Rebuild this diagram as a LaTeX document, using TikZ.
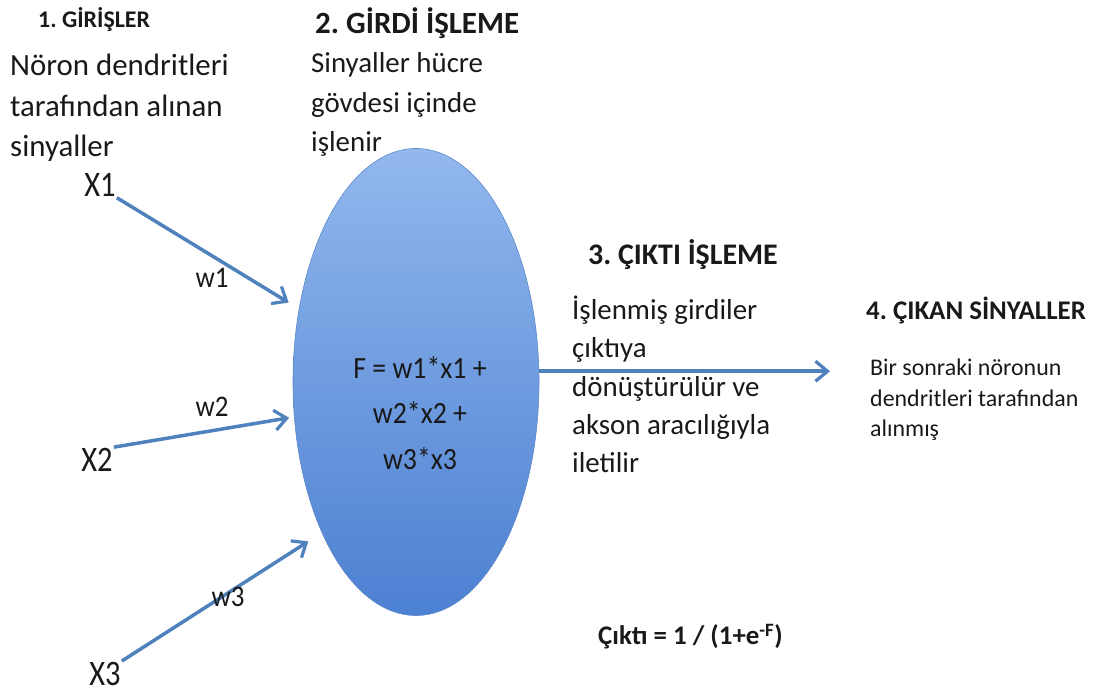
\documentclass[tikz,border=0pt]{standalone}
\usepackage{fontspec}
\setmainfont{Carlito}
\usetikzlibrary{arrows.meta,shapes.geometric}
\definecolor{axon}{RGB}{79,129,189}
\definecolor{somatop}{RGB}{146,184,237}
\definecolor{somabot}{RGB}{76,128,210}
\definecolor{somaedge}{RGB}{92,136,200}
\definecolor{ink}{RGB}{25,25,25}
\frenchspacing
\begin{document}
\begin{tikzpicture}[x=1bp,y=1bp,>={Straight Barb[length=12bp,width=20bp,line width=3.2bp]},
	sig/.style={->,draw=axon,line width=3.5bp},
	txt/.style={anchor=base west,align=left,inner sep=0pt,text=ink},
	head/.style={anchor=base west,inner sep=0pt,text=ink},
	inp/.style={inner sep=1bp,text=ink,font=\fontsize{36}{36}\selectfont\addfontfeatures{FakeStretch=0.85}},
	wgt/.style={inner sep=0pt,text=ink,font=\fontsize{30}{30}\selectfont\addfontfeatures{FakeStretch=0.9}}]
	\useasboundingbox (0,0) rectangle (1109,695);
	\node[ellipse,minimum width=246bp,minimum height=467bp,inner sep=0pt,draw=somaedge,line width=0.6bp,top color=somatop,bottom color=somabot] (neuron) at (416,313) {};
	\node[align=center,inner sep=0pt,text=ink,font=\fontsize{31}{46}\selectfont\addfontfeatures{FakeStretch=0.9}] (fsum) at (420,282) {F = w1*x1 +\\w2*x2 +\\w3*x3};
	\node[head,font=\fontsize{24}{24}\selectfont\bfseries] (h1) at (38,667) {1. GİRİŞLER};
	\node[txt,font=\fontsize{31}{41}\selectfont] (t1) at (10,538) {Nöron dendritleri\\tarafından alınan\\sinyaller};
	\node[head,font=\fontsize{31}{31}\selectfont\bfseries] (h2) at (315,661) {2. GİRDİ İŞLEME};
	\node[txt,font=\fontsize{29}{40}\selectfont] (t2) at (311,543) {Sinyaller hücre\\gövdesi içinde\\işlenir};
	\node[head,font=\fontsize{30}{30}\selectfont\bfseries] (h3) at (588,430) {3. ÇIKTI İŞLEME};
	\node[txt,font=\fontsize{29}{38.5}\selectfont] (t3) at (572,222) {İşlenmiş girdiler\\çıktıya\\dönüştürülür ve\\akson aracılığıyla\\iletilir};
	\node[head,font=\fontsize{27}{27}\selectfont\bfseries] (h4) at (866,375) {4. ÇIKAN SİNYALLER};
	\node[txt,font=\fontsize{24}{31}\selectfont] (t4) at (870,258) {Bir sonraki nöronun\\dendritleri tarafından\\alınmış};
	\node[head,font=\fontsize{27}{27}\selectfont\bfseries] (cikti) at (598,50) {Çıktı = 1 / (1+e\textsuperscript{-F})};
	\node[inp] (x1) at (100,510) {X1};
	\node[inp] (x2) at (97,235) {X2};
	\node[inp] (x3) at (105,21) {X3};
	\draw[sig,shorten >=12bp] (x1.south east) -- (neuron.148);
	\draw[sig,shorten >=5bp] (x2.north east) -- (neuron.196);
	\draw[sig,shorten >=16bp] (x3.north east) -- (neuron.238);
	\coordinate (out) at (830,323);
	\draw[sig] (neuron.5) -- (neuron.5 -| out);
	\node[wgt] (w1) at (212,417) {w1};
	\node[wgt] (w2) at (212,288) {w2};
	\node[wgt] (w3) at (228,98) {w3};
\end{tikzpicture}
\end{document}
